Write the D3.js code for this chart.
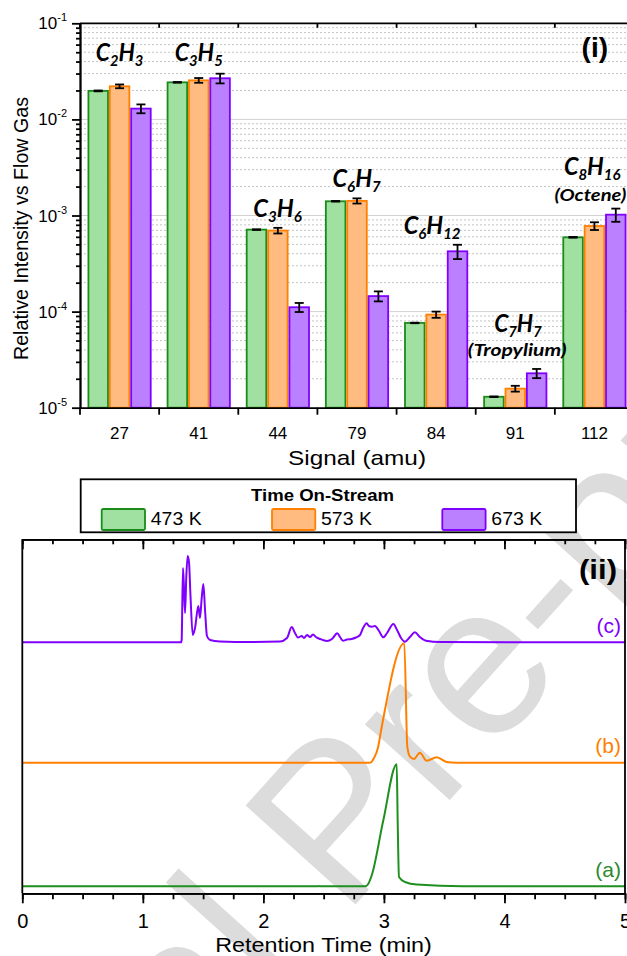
<!DOCTYPE html>
<html><head><meta charset="utf-8">
<script src="https://cdn.jsdelivr.net/npm/d3@7"></script>
<style>body{margin:0;background:#fff}svg{display:block}</style>
</head><body>
<svg id="chart" width="627" height="956"></svg>
<script>
// ---------------- DATA ----------------
const categories = ["27","41","44","79","84","91","112"];
const seriesNames = ["473 K","573 K","673 K"];
const values473 = [0.0198, 0.0243, 7.13e-4, 1.406e-3, 7.62e-5, 1.30e-5, 5.93e-4];
const values573 = [0.0221, 0.0255, 6.97e-4, 1.42e-3, 9.31e-5, 1.58e-5, 7.78e-4];
const values673 = [0.01295, 0.0268, 1.11e-4, 1.45e-4, 4.24e-4, 2.28e-5, 1.02e-3];
const errors473 = [0.0002, 0.0002, 5e-6, 1e-5, 5e-7, 1e-7, 5e-6];
const errors573 = [0.0010, 0.00145, 4.7e-5, 8.8e-5, 6.9e-6, 1.1e-6, 7.2e-5];
const errors673 = [0.00137, 0.0031, 1.2e-5, 1.73e-5, 7.2e-5, 2.5e-6, 1.6e-4];
const yTickValues = [1e-5, 1e-4, 1e-3, 1e-2, 1e-1];
const yTickExponents = ["-5","-4","-3","-2","-1"];
const legendTitle = "Time On-Stream";
const moleculeNames = ["C_2H_3","C_3H_5","C_3H_6","C_6H_7","C_6H_12","C_7H_7","C_8H_16"];
const moleculeNotes = ["","","","","","(Tropylium)","(Octene)"];

const timeTicks = [0,1,2,3,4,5];
const traceLabels = ["(a)","(b)","(c)"];
const traceBaselines = [7, 130.6, 251];
// [time (min), signal above baseline (a.u.)]
const traceA = [[0,0],[2.45,0],[2.46,0.4],[2.47,0],[2.847,0],[2.868,2],[2.899,11],[2.995,66],[3.106,122],
  [3.114,66],[3.125,9.3],[3.175,4.3],[3.272,1.7],[3.656,0],[5,0]];
const traceB = [[0,0],[2.885,0],[2.918,4.7],[2.95,14.7],[2.982,36],[3.169,119.4],[3.194,16],[3.216,6],
  [3.25,3.7],[3.298,10],[3.355,2],[3.438,5.4],[3.521,0.7],[3.6,0],[5,0]];
const traceC = [[0,0],[1.317,0],[1.322,2.3],[1.333,74.3],[1.342,52.3],[1.35,29.3],[1.361,67.3],[1.372,86.3],
  [1.383,80.3],[1.395,47.3],[1.414,7.3],[1.433,14.3],[1.46,36.3],[1.474,24.3],[1.487,42.3],[1.502,58.3],
  [1.516,32.3],[1.532,6.3],[1.557,2.3],[1.64,0.8],[1.889,0.3],[2.138,0.8],[2.196,4.3],[2.235,15.3],
  [2.262,9.3],[2.287,4.8],[2.318,6.3],[2.337,4.3],[2.362,7.3],[2.387,5.3],[2.412,7.8],[2.436,5.3],
  [2.47,3.3],[2.528,1.3],[2.569,3.3],[2.613,9],[2.636,5.3],[2.66,1.6],[2.693,2.8],[2.732,3.3],
  [2.768,4.8],[2.802,7.3],[2.827,14.3],[2.857,19],[2.876,16.3],[2.899,15.6],[2.926,16.3],[2.959,11.3],
  [2.995,5],[3.026,9.3],[3.078,18.3],[3.109,12.3],[3.142,4.3],[3.175,0.6],[3.216,5.3],[3.257,10],
  [3.298,5.3],[3.349,1.6],[3.465,0.3],[5,0]];

// ---------------- STYLE ----------------
const FONT = "'Liberation Sans', Arial, sans-serif";
const LFONT = "Lato, 'Open Sans', sans-serif";
const fills = ["#a0e0a0", "#ffbb80", "#bb80ff"];
const strokes = ["#1a8c1a", "#ff8000", "#8000ff"];

const svg = d3.select("#chart");
svg.append("rect").attr("width",627).attr("height",956).attr("fill","#fff");

// watermark
svg.append("text").text("Journal Pre-proof")
  .attr("transform","translate(-168,1486) rotate(-48)")
  .attr("font-family",FONT).attr("font-size",215).attr("fill","#dcdcdc");

// ---------------- PANEL (i) ----------------
const P1 = {left:80, right:634, top:23.3, bottom:407.7};
const x0 = d3.scaleBand().domain(categories).range([P1.left, P1.right]).paddingInner(0.19).paddingOuter(0.095);
const x1 = d3.scaleBand().domain(seriesNames).range([0, x0.bandwidth()]);
const y = d3.scaleLog().domain([1e-5, 1e-1]).range([P1.bottom, P1.top]);

const g1 = svg.append("g");
// grid
const minorVals = [];
for (let k=-5;k<=-2;k++) for (let m=2;m<=9;m++) minorVals.push(m*Math.pow(10,k));
g1.selectAll(".gminor").data(minorVals).join("line")
  .attr("x1",P1.left).attr("x2",P1.right).attr("y1",d=>y(d)).attr("y2",d=>y(d))
  .attr("stroke","#c4c4c4").attr("stroke-width",1).attr("stroke-dasharray","2,2");
g1.selectAll(".gmajor").data(yTickValues.slice(1,4)).join("line")
  .attr("x1",P1.left).attr("x2",P1.right).attr("y1",d=>y(d)).attr("y2",d=>y(d))
  .attr("stroke","#d2d2d2").attr("stroke-width",1);

// bars
const seriesVals = [values473, values573, values673];
const seriesErr = [errors473, errors573, errors673];
const barData = [];
categories.forEach((c,i)=>seriesNames.forEach((s,j)=>barData.push({c, s, j, v:seriesVals[j][i], e:seriesErr[j][i]})));
g1.selectAll(".bar").data(barData).join("rect")
  .attr("x",d=>x0(d.c)+x1(d.s)+0.9).attr("width",x1.bandwidth()-1.8)
  .attr("y",d=>y(d.v)).attr("height",d=>y(1e-5)-y(d.v))
  .attr("fill",d=>fills[d.j]).attr("stroke",d=>strokes[d.j]).attr("stroke-width",1.8);
// error bars
const eb = g1.selectAll(".eb").data(barData).join("g")
  .attr("transform",d=>`translate(${x0(d.c)+x1(d.s)+x1.bandwidth()/2},0)`);
eb.append("line").attr("y1",d=>y(d.v-d.e)).attr("y2",d=>y(d.v+d.e)).attr("stroke","#000").attr("stroke-width",1.8);
eb.append("line").attr("x1",-4.5).attr("x2",4.5).attr("y1",d=>y(d.v-d.e)).attr("y2",d=>y(d.v-d.e)).attr("stroke","#000").attr("stroke-width",1.8);
eb.append("line").attr("x1",-4.5).attr("x2",4.5).attr("y1",d=>y(d.v+d.e)).attr("y2",d=>y(d.v+d.e)).attr("stroke","#000").attr("stroke-width",1.8);

// axes
const axL = g1.append("g").attr("transform",`translate(${P1.left},0)`)
  .call(d3.axisLeft(y).tickValues(minorVals).tickSize(4).tickSizeOuter(0).tickFormat(""));
const axL2 = g1.append("g").attr("transform",`translate(${P1.left},0)`)
  .call(d3.axisLeft(y).tickValues(yTickValues).tickSize(8).tickSizeOuter(0).tickFormat(""));
[axL,axL2].forEach(a=>{a.selectAll("line,path").attr("stroke","#000").attr("stroke-width",1.8);});
const ylab = g1.selectAll(".ytl").data(yTickValues).join("text")
  .attr("x",67).attr("y",d=>y(d)+6).attr("text-anchor","end")
  .attr("font-family",FONT).attr("font-size",17).attr("fill","#000");
ylab.append("tspan").text("10");
ylab.append("tspan").text((d,i)=>yTickExponents[i]).attr("font-size",11).attr("dy",-8);

const axB = g1.append("g").attr("transform",`translate(0,${P1.bottom})`)
  .call(d3.axisBottom(x0).tickSize(0).tickPadding(19.2).tickSizeOuter(0));
axB.select(".domain").attr("stroke","#000").attr("stroke-width",1.8);
axB.selectAll("text").attr("font-family",FONT).attr("font-size",17).attr("fill","#000");
const boundaries = d3.range(categories.length+1).map(i=>P1.left + i*x0.step());
g1.selectAll(".bt").data(boundaries).join("line")
  .attr("x1",d=>d).attr("x2",d=>d).attr("y1",P1.bottom).attr("y2",P1.bottom+7)
  .attr("stroke","#000").attr("stroke-width",1.8);
g1.append("line").attr("x1",P1.left).attr("x2",P1.right).attr("y1",P1.top).attr("y2",P1.top)
  .attr("stroke","#000").attr("stroke-width",1.8);
g1.selectAll(".tt").data(boundaries).join("line")
  .attr("x1",d=>d).attr("x2",d=>d).attr("y1",P1.top).attr("y2",P1.top+4.5)
  .attr("stroke","#000").attr("stroke-width",1.8);
g1.append("line").attr("x1",P1.right).attr("x2",P1.right).attr("y1",P1.top).attr("y2",P1.bottom)
  .attr("stroke","#000").attr("stroke-width",1.8);

g1.append("text").text("Signal (amu)").attr("x",357).attr("y",465).attr("text-anchor","middle")
  .attr("font-family",FONT).attr("font-size",21).attr("textLength",138).attr("lengthAdjust","spacingAndGlyphs");
g1.append("text").text("Relative Intensity vs Flow Gas").attr("transform","translate(28.3,228.5) rotate(-90)")
  .attr("text-anchor","middle").attr("font-family",FONT).attr("font-size",20)
  .attr("textLength",263).attr("lengthAdjust","spacingAndGlyphs");
g1.append("text").text("(i)").attr("x",608).attr("y",57).attr("text-anchor","end")
  .attr("font-family",FONT).attr("font-weight","bold").attr("font-size",28);

// molecule annotations: [anchor value on y, dx from category centre, target width]
const molLayout = [[4.03e-2,0,47.6],[4.03e-2,0,48],[9.62e-4,0,49],[1.97e-3,0,49],[6.40e-4,-4,57],[6.12e-5,3,48],[2.63e-3,-2,57]];
const noteLayout = [null,null,null,null,null,[3.45e-5,2,99],[1.41e-3,-4,72]];
function scaledText(parent, cx, by, targetW, build){
  const t = parent.append("text").attr("font-family",LFONT).attr("font-weight","bold").attr("font-style","italic").attr("fill","#000");
  build(t);
  const w = t.node().getBBox().width;
  t.attr("transform",`translate(${cx - targetW/2},${by}) scale(${targetW/w},1)`);
}
moleculeNames.forEach((m,i)=>{
  const cx = x0(categories[i]) + x0.bandwidth()/2 + molLayout[i][1];
  const by = y(molLayout[i][0]);
  scaledText(g1, cx, by, molLayout[i][2], t=>{
    t.attr("font-size",25);
    const parts = m.match(/[A-Z]+|_\d+/g);
    let sub=false;
    parts.forEach(p=>{
      if (p.startsWith("_")) { t.append("tspan").text(p.slice(1)).attr("font-size",16).attr("dy", 5); sub=true; }
      else { t.append("tspan").text(p).attr("dy", sub? -5:0); sub=false; }
    });
  });
  if (moleculeNotes[i]) {
    const L = noteLayout[i];
    scaledText(g1, x0(categories[i]) + x0.bandwidth()/2 + L[1], y(L[0]), L[2], t=>{
      t.attr("font-size",17).text(moleculeNotes[i]);
    });
  }
});

// ---------------- LEGEND ----------------
const lg = svg.append("g");
lg.append("rect").attr("x",80.7).attr("y",479.3).attr("width",495.3).attr("height",53)
  .attr("fill","#fff").attr("stroke","#000").attr("stroke-width",1.8);
lg.append("text").text(legendTitle).attr("x",322.5).attr("y",500.7).attr("text-anchor","middle")
  .attr("font-family",FONT).attr("font-weight","bold").attr("font-size",17)
  .attr("textLength",143).attr("lengthAdjust","spacingAndGlyphs");
const li = lg.selectAll(".li").data(seriesNames).join("g")
  .attr("transform",(d,i)=>`translate(${101.7 + i*170.3},509)`);
li.append("rect").attr("width",43.3).attr("height",21).attr("rx",1.5)
  .attr("fill",(d,i)=>fills[i]).attr("stroke",(d,i)=>strokes[i]).attr("stroke-width",1.8);
li.append("text").text(d=>d).attr("x",49).attr("y",16).attr("font-family",FONT).attr("font-size",18)
  .attr("textLength",51).attr("lengthAdjust","spacingAndGlyphs");

// ---------------- PANEL (ii) ----------------
const P2 = {left:22.3, right:625, top:539.3, bottom:893.3};
const xt = d3.scaleLinear().domain([0,5]).range([P2.left,P2.right]);
const yi = d3.scaleLinear().domain([0,354]).range([P2.bottom,P2.top]);
const g2 = svg.append("g");
const traces = [traceA, traceB, traceC];
const lineColors = ["#1f8f1f", "#ff8000", "#8000ff"];
const labelColors = ["#2a8a2a", "#ff8000", "#8000ff"];
traces.forEach((tr,k)=>{
  const line = d3.line().x(d=>xt(d[0])).y(d=>yi(traceBaselines[k]+d[1])).curve(d3.curveMonotoneX);
  g2.append("path").attr("d",line(tr)).attr("fill","none").attr("stroke",lineColors[k])
    .attr("stroke-width",2).attr("stroke-linejoin","round");
});
const labelY = [876.7, 753, 633];
traceLabels.forEach((l,k)=>{
  g2.append("text").text(l).attr("x",621).attr("y",labelY[k]).attr("text-anchor","end")
    .attr("font-family",FONT).attr("font-size",21).attr("fill",labelColors[k]);
});
const minorT = d3.range(0,5.001,0.25);
function styleAx(a){ a.selectAll("line,path").attr("stroke","#000").attr("stroke-width",1.8); }
const bx1 = g2.append("g").attr("transform",`translate(0,${P2.bottom})`)
  .call(d3.axisBottom(xt).tickValues(minorT).tickSize(6).tickSizeOuter(0).tickFormat(""));
const bx2 = g2.append("g").attr("transform",`translate(0,${P2.bottom})`)
  .call(d3.axisBottom(xt).tickValues(timeTicks).tickSize(10).tickSizeOuter(0).tickPadding(10.5).tickFormat(d3.format("d")));
styleAx(bx1); styleAx(bx2);
bx2.selectAll("text").attr("font-family",FONT).attr("font-size",20).attr("fill","#000");
const tx1 = g2.append("g").attr("transform",`translate(0,${P2.top})`)
  .call(d3.axisTop(xt).tickValues(minorT).tickSize(-5).tickSizeOuter(0).tickFormat(""));
const tx2 = g2.append("g").attr("transform",`translate(0,${P2.top})`)
  .call(d3.axisTop(xt).tickValues(timeTicks).tickSize(-10).tickSizeOuter(0).tickFormat(""));
styleAx(tx1); styleAx(tx2);
g2.append("line").attr("x1",P2.left).attr("x2",P2.left).attr("y1",P2.top).attr("y2",P2.bottom).attr("stroke","#000").attr("stroke-width",1.8);
g2.append("line").attr("x1",P2.right).attr("x2",P2.right).attr("y1",P2.top).attr("y2",P2.bottom).attr("stroke","#000").attr("stroke-width",1.8);
g2.append("text").text("Retention Time (min)").attr("x",323.5).attr("y",951.7).attr("text-anchor","middle")
  .attr("font-family",FONT).attr("font-size",20).attr("textLength",216.7).attr("lengthAdjust","spacingAndGlyphs");
g2.append("text").text("(ii)").attr("x",617).attr("y",579).attr("text-anchor","end")
  .attr("font-family",FONT).attr("font-weight","bold").attr("font-size",28)
  .attr("textLength",38).attr("lengthAdjust","spacingAndGlyphs");
</script>
</body></html>
